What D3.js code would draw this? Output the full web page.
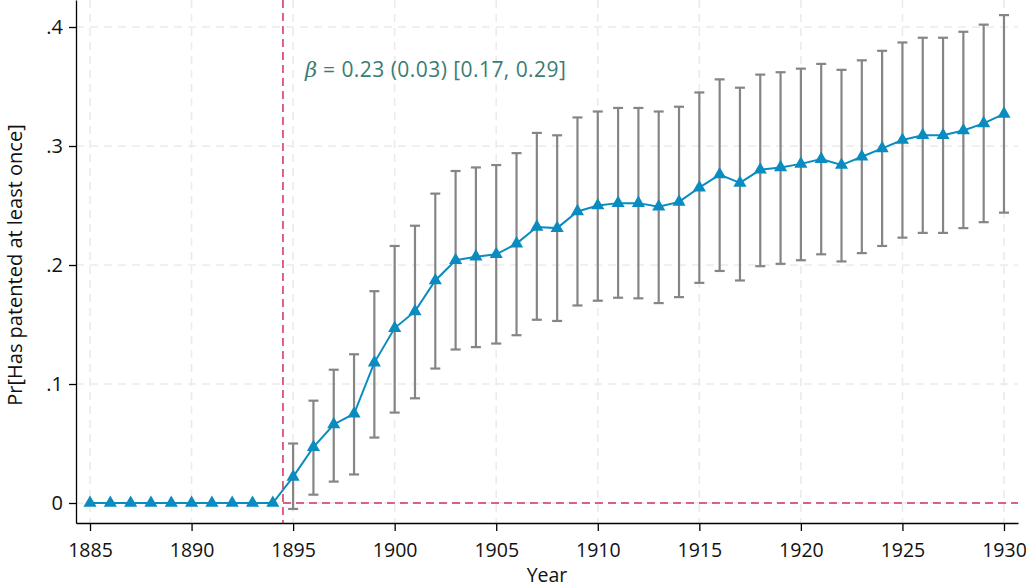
<!DOCTYPE html>
<html>
<head>
<meta charset="utf-8">
<script src="https://cdn.jsdelivr.net/npm/d3@7"></script>
<style>
  html, body { margin: 0; padding: 0; background: #fff; }
  svg { display: block; }
  text { font-family: "Open Sans", Lato, "DejaVu Sans", sans-serif; }
</style>
</head>
<body>
<svg id="chart" width="1026" height="587"></svg>
<script>
// Event-study estimates: probability of having patented at least once, by year
const years = d3.range(1885, 1931);
const estimates = [
  0, 0, 0, 0, 0, 0, 0, 0, 0, 0,
  0.022, 0.047, 0.066, 0.075, 0.118, 0.147, 0.161, 0.187, 0.204, 0.207,
  0.209, 0.218, 0.232, 0.231, 0.245, 0.250, 0.252, 0.252, 0.249, 0.253,
  0.265, 0.276, 0.269, 0.280, 0.282, 0.285, 0.289, 0.284, 0.291, 0.298,
  0.305, 0.309, 0.309, 0.313, 0.319, 0.327
];
// 95% confidence bounds (post-treatment years only)
const ciLower = [
  null, null, null, null, null, null, null, null, null, null,
  -0.005, 0.007, 0.018, 0.024, 0.055, 0.076, 0.088, 0.113, 0.129, 0.131,
  0.134, 0.141, 0.154, 0.153, 0.166, 0.170, 0.1725, 0.172, 0.168, 0.173,
  0.185, 0.195, 0.187, 0.199, 0.201, 0.204, 0.209, 0.203, 0.210, 0.216,
  0.223, 0.227, 0.227, 0.231, 0.236, 0.244
];
const ciUpper = [
  null, null, null, null, null, null, null, null, null, null,
  0.050, 0.086, 0.112, 0.125, 0.178, 0.216, 0.233, 0.260, 0.279, 0.282,
  0.284, 0.294, 0.311, 0.309, 0.324, 0.329, 0.332, 0.332, 0.329, 0.333,
  0.345, 0.356, 0.349, 0.360, 0.362, 0.365, 0.369, 0.364, 0.372, 0.380,
  0.387, 0.391, 0.391, 0.396, 0.402, 0.410
];
const xTicks = [1885, 1890, 1895, 1900, 1905, 1910, 1915, 1920, 1925, 1930];
const yTicks = [0, 0.1, 0.2, 0.3, 0.4];
const yTickLabels = ["0", ".1", ".2", ".3", ".4"];
const treatmentYear = 1894.5;
const annotation = "0.23 (0.03) [0.17, 0.29]";

const svg = d3.select("#chart");
const plotLeft = 76, plotRight = 1018, plotTop = 0, plotBottom = 523;

const x = d3.scaleLinear().domain([1884.31, 1930.69]).range([plotLeft, plotRight]);
const y = d3.scaleLinear().domain([-0.0168, 0.4227]).range([plotBottom, plotTop]);

const gridColor = "#ebebeb";

// Gridlines
svg.append("g").selectAll("line").data(xTicks).join("line")
  .attr("x1", d => x(d)).attr("x2", d => x(d))
  .attr("y1", plotTop).attr("y2", plotBottom)
  .attr("stroke", gridColor).attr("stroke-width", 1.6)
  .attr("stroke-dasharray", "8,6");
svg.append("g").selectAll("line").data(yTicks).join("line")
  .attr("x1", plotLeft).attr("x2", plotRight)
  .attr("y1", d => y(d)).attr("y2", d => y(d))
  .attr("stroke", gridColor).attr("stroke-width", 1.6)
  .attr("stroke-dasharray", "8,6");

// Reference lines: treatment onset and zero effect
const refColor = "#d0325f";
svg.append("line")
  .attr("x1", x(treatmentYear)).attr("x2", x(treatmentYear))
  .attr("y1", plotTop).attr("y2", plotBottom)
  .attr("stroke", refColor).attr("stroke-width", 1.5)
  .attr("stroke-dasharray", "8,5");
svg.append("line")
  .attr("x1", x(treatmentYear)).attr("x2", plotRight)
  .attr("y1", y(0)).attr("y2", y(0))
  .attr("stroke", refColor).attr("stroke-width", 1.5)
  .attr("stroke-dasharray", "8,5");

// Axes
const xAxis = d3.axisBottom(x).tickValues(xTicks).tickFormat(d3.format("d"))
  .tickSize(8).tickSizeOuter(0).tickPadding(12);
const gx = svg.append("g").attr("transform", `translate(0,${plotBottom})`).call(xAxis);
gx.select(".domain").attr("stroke", "#000").attr("stroke-width", 1.3);
gx.selectAll(".tick line").attr("stroke", "#000").attr("stroke-width", 1.3);
gx.selectAll(".tick text").attr("font-size", 19.5).attr("fill", "#111");

const yAxis = d3.axisLeft(y).tickValues(yTicks)
  .tickFormat((d, i) => yTickLabels[i])
  .tickSize(7).tickSizeOuter(0).tickPadding(6);
const gy = svg.append("g").attr("transform", `translate(${plotLeft},0)`).call(yAxis);
gy.select(".domain").attr("stroke", "#000").attr("stroke-width", 1.3);
gy.selectAll(".tick line").attr("stroke", "#000").attr("stroke-width", 1.3);
gy.selectAll(".tick text").attr("font-size", 20).attr("fill", "#111");

// Axis titles
svg.append("text").attr("x", 547).attr("y", 582)
  .attr("text-anchor", "middle").attr("font-size", 19.5).attr("fill", "#111")
  .text("Year");
svg.append("text")
  .attr("transform", `translate(22,265) rotate(-90)`)
  .attr("text-anchor", "middle").attr("font-size", 20).attr("fill", "#111")
  .text("Pr[Has patented at least once]");

// Confidence intervals
const ciData = years.map((yr, i) => ({ yr, lo: ciLower[i], hi: ciUpper[i] }))
  .filter(d => d.lo !== null);
const ciColor = "#858585";
const capHalf = 5;
const ci = svg.append("g").attr("stroke", ciColor).attr("stroke-width", 2.2);
ci.selectAll("line.v").data(ciData).join("line").attr("class", "v")
  .attr("x1", d => x(d.yr)).attr("x2", d => x(d.yr))
  .attr("y1", d => y(d.lo)).attr("y2", d => y(d.hi));
ci.selectAll("line.t").data(ciData).join("line").attr("class", "t")
  .attr("x1", d => x(d.yr) - capHalf).attr("x2", d => x(d.yr) + capHalf)
  .attr("y1", d => y(d.hi)).attr("y2", d => y(d.hi));
ci.selectAll("line.b").data(ciData).join("line").attr("class", "b")
  .attr("x1", d => x(d.yr) - capHalf).attr("x2", d => x(d.yr) + capHalf)
  .attr("y1", d => y(d.lo)).attr("y2", d => y(d.lo));

// Point estimates
const pts = years.map((yr, i) => ({ yr, v: estimates[i] }));
const lineColor = "#0b8cc0";
svg.append("path").datum(pts)
  .attr("fill", "none").attr("stroke", lineColor).attr("stroke-width", 2)
  .attr("d", d3.line().x(d => x(d.yr)).y(d => y(d.v)));
svg.append("g").selectAll("path").data(pts).join("path")
  .attr("transform", d => `translate(${x(d.yr)},${y(d.v)})`)
  .attr("d", d3.symbol(d3.symbolTriangle, 75))
  .attr("fill", lineColor);

// Pooled coefficient annotation
const ann = svg.append("text").attr("x", 305).attr("y", 77)
  .attr("font-size", 21).attr("fill", "#3a7d74");
ann.append("tspan").attr("font-family", "'DejaVu Serif', serif")
  .attr("font-style", "italic").attr("font-size", 21).text("β");
ann.append("tspan").attr("letter-spacing", 0.45).text(" = " + annotation);
</script>
</body>
</html>
